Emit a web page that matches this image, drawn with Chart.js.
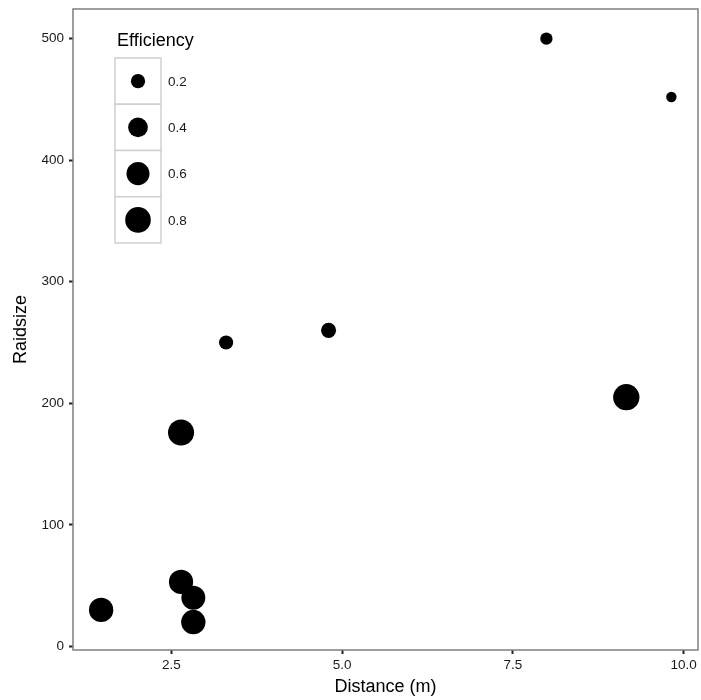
<!DOCTYPE html>
<html>
<head>
<meta charset="utf-8">
<script src="https://cdn.jsdelivr.net/npm/chart.js@4/dist/chart.umd.min.js"></script>
<style>
  html, body { margin: 0; padding: 0; background: #fff; }
  #wrap { width: 701px; height: 700px; }
</style>
</head>
<body>
<div id="wrap"><canvas id="c" width="701" height="700"></canvas></div>
<script>
// raid data
const distance   = [1.47, 2.64, 2.82, 2.82, 2.64, 3.30, 4.80, 7.99, 9.82, 9.16];
const raidsize   = [30,   53,   40,   20,   176,  250,  260,  500,  452,  205];
const efficiency = [0.70, 0.69, 0.67, 0.70, 0.84, 0.20, 0.22, 0.17, 0.16, 0.86];

const xTicks = [2.5, 5.0, 7.5, 10.0];
const yTicks = [0, 100, 200, 300, 400, 500];
const legendBreaks = [0.2, 0.4, 0.6, 0.8];

const FONT = "'Liberation Sans', Arial, Helvetica, sans-serif";
const effMin = Math.min(...efficiency);

// area-style size scale (radius grows with sqrt of value)
function sizeOf(v) { return 5.2 + 9.5 * Math.sqrt(Math.max(0, v - effMin)); }

const points = distance.map((d, i) => ({ x: d, y: raidsize[i] }));

const panelAndLegend = {
  id: 'panelAndLegend',
  afterDraw(chart) {
    const { ctx, chartArea: a } = chart;
    ctx.save();
    ctx.strokeStyle = '#7f7f7f';
    ctx.lineWidth = 1.5;
    ctx.strokeRect(a.left, a.top, a.right - a.left, a.bottom - a.top);

    // size legend
    const lx = 115, ly = 58, bw = 46, bh = 46.25;
    ctx.fillStyle = '#000';
    ctx.font = '18px ' + FONT;
    ctx.textAlign = 'left';
    ctx.textBaseline = 'middle';
    ctx.fillText('Efficiency', lx + 2, 41);
    legendBreaks.forEach((v, i) => {
      const top = ly + i * bh;
      ctx.fillStyle = '#fff';
      ctx.fillRect(lx, top, bw, bh);
      ctx.strokeStyle = '#d0d0d0';
      ctx.lineWidth = 1.5;
      ctx.strokeRect(lx, top, bw, bh);
      ctx.fillStyle = '#000';
      ctx.beginPath();
      ctx.arc(lx + bw / 2, top + bh / 2, sizeOf(v), 0, Math.PI * 2);
      ctx.fill();
      ctx.fillStyle = '#1a1a1a';
      ctx.font = '13.5px ' + FONT;
      ctx.fillText(v.toFixed(1), lx + bw + 7, top + bh / 2 + 1);
    });
    ctx.restore();
  }
};

new Chart(document.getElementById('c'), {
  type: 'scatter',
  data: {
    datasets: [{
      data: points,
      backgroundColor: '#000',
      borderWidth: 0,
      pointRadius: efficiency.map(sizeOf),
      pointHoverRadius: efficiency.map(sizeOf)
    }]
  },
  options: {
    responsive: false,
    animation: false,
    events: [],
    layout: { autoPadding: false, padding: { top: 9, right: 3, left: 0, bottom: 0 } },
    plugins: { legend: { display: false }, tooltip: { enabled: false } },
    scales: {
      x: {
        type: 'linear', min: 1.058, max: 10.21,
        afterBuildTicks: s => { s.ticks = xTicks.map(v => ({ value: v })); },
        afterFit: s => { s.height = 50; s.paddingLeft = 0; s.paddingRight = 0; },
        grid: { drawOnChartArea: false, drawTicks: true, tickLength: 4, tickColor: '#222', tickWidth: 2 },
        border: { display: false },
        ticks: { color: '#1a1a1a', padding: 3, font: { family: FONT, size: 13.5 }, callback: v => Number(v).toFixed(1) },
        title: { display: true, text: 'Distance (m)', color: '#000', font: { family: FONT, size: 18 }, padding: { top: 0, bottom: 2 } }
      },
      y: {
        type: 'linear', min: -3, max: 524.4,
        afterBuildTicks: s => { s.ticks = yTicks.map(v => ({ value: v })); },
        afterFit: s => { s.width = 73; s.paddingTop = 0; s.paddingBottom = 0; },
        grid: { drawOnChartArea: false, drawTicks: true, tickLength: 4, tickColor: '#222', tickWidth: 2 },
        border: { display: false },
        ticks: { color: '#1a1a1a', padding: 5, font: { family: FONT, size: 13.5 }, callback: v => String(v) },
        title: { display: true, text: 'Raidsize', color: '#000', font: { family: FONT, size: 18 }, padding: { top: 10, bottom: 0 } }
      }
    }
  },
  plugins: [panelAndLegend]
});
</script>
</body>
</html>
